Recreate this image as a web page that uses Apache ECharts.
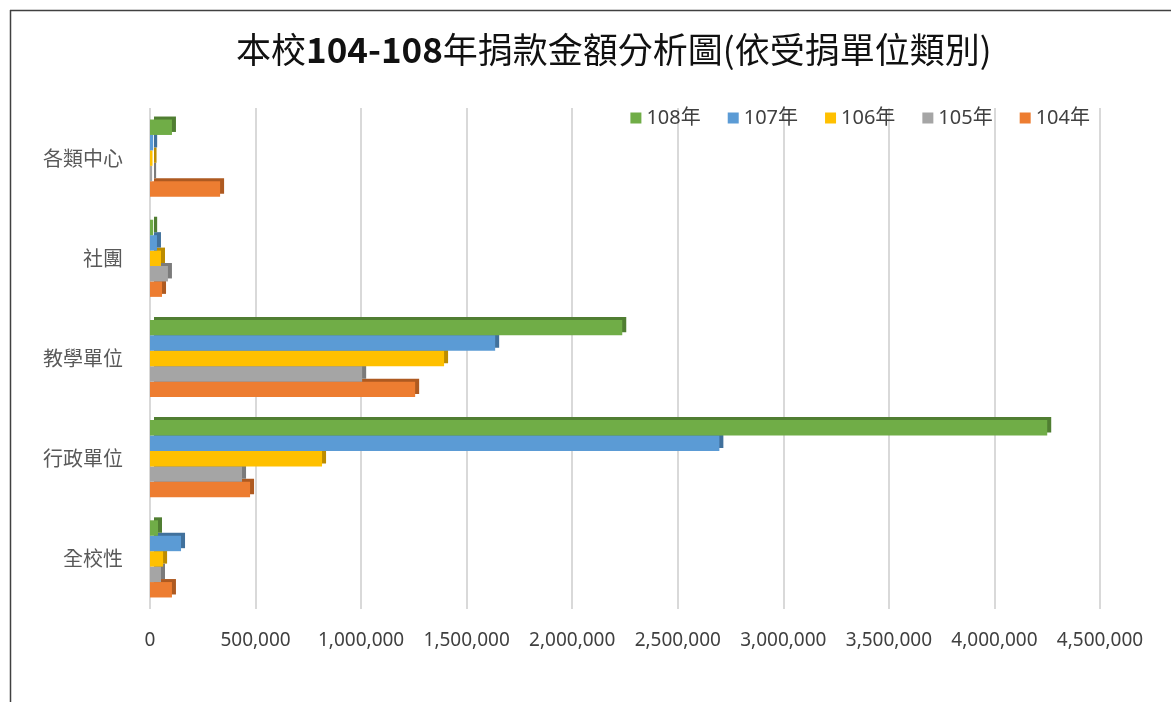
<!DOCTYPE html>
<html>
<head>
<meta charset="utf-8">
<script src="https://cdn.jsdelivr.net/npm/echarts@6/dist/echarts.min.js"></script>
<style>
  html, body { margin: 0; padding: 0; background: #fff; }
  #chart { width: 1171px; height: 702px; }
</style>
</head>
<body>
<div id="chart"></div>
<script>
// categories, bottom to top
const units = ['全校性', '行政單位', '教學單位', '社團', '各類中心'];

const y104 = [104000, 474000, 1256000, 57000, 332000];
const y105 = [52000, 436000, 1005000, 85000, 10000];
const y106 = [62000, 815000, 1393000, 52000, 12000];
const y107 = [147000, 2697000, 1635000, 33000, 15000];
const y108 = [38000, 4250000, 2237000, 15000, 104000];

const legendOrder = ['108年', '107年', '106年', '105年', '104年'];

// first series sits on top of each group; higher z so it covers the side face of the bar below
const seriesDefs = [
  { name: '108年', data: y108, color: '#70AD47', side: '#507E32', z: 7 },
  { name: '107年', data: y107, color: '#5B9BD5', side: '#41719C', z: 6 },
  { name: '106年', data: y106, color: '#FFC000', side: '#BC8C00', z: 5 },
  { name: '105年', data: y105, color: '#A5A5A5', side: '#7B7B7B', z: 4 },
  { name: '104年', data: y104, color: '#ED7D31', side: '#AE5A21', z: 3 },
];

const chart = echarts.init(document.getElementById('chart'));

const option = {
  backgroundColor: '#fff',
  animation: false,
  title: {
    text: '{a|本校}{b|104-108}{a|年捐款金額分析圖(依受捐單位類別)}',
    left: 231,
    top: 27,
    textStyle: {
      rich: {
        a: { fontSize: 35, color: '#111', fontWeight: 'normal', fontFamily: 'Noto Sans CJK TC' },
        b: { fontSize: 35, color: '#111', fontWeight: 'bold', fontFamily: 'Noto Sans CJK TC' }
      }
    }
  },
  legend: {
    data: legendOrder,
    right: 76,
    top: 103,
    icon: 'rect',
    itemWidth: 11,
    itemHeight: 11,
    itemGap: 27,
    textStyle: { fontSize: 20, color: '#404040', fontFamily: 'Noto Sans, Noto Sans CJK TC' }
  },
  grid: {
    left: 150,
    right: 71,
    top: 108,
    bottom: 93
  },
  xAxis: {
    type: 'value',
    min: 0,
    max: 4500000,
    interval: 500000,
    axisLine: { show: false },
    axisTick: { show: false },
    axisLabel: {
      margin: 22,
      fontSize: 19,
      color: '#404040',
      fontFamily: 'Noto Sans',
      formatter: v => v.toLocaleString('en-US')
    },
    splitLine: { lineStyle: { color: '#d9d9d9', width: 2 } }
  },
  yAxis: {
    type: 'category',
    data: units,
    axisLine: { show: false },
    axisTick: { show: false },
    axisLabel: {
      margin: 27,
      fontSize: 20,
      color: '#595959',
      fontFamily: 'Noto Sans CJK TC'
    }
  },
  series: seriesDefs.map(s => ({
    name: s.name,
    type: 'bar',
    data: s.data,
    z: s.z,
    barGap: '0%',
    barCategoryGap: '23%',
    itemStyle: {
      color: s.color,
      shadowColor: s.side,
      shadowBlur: 0,
      shadowOffsetX: 4,
      shadowOffsetY: -3
    }
  })),
  graphic: [
    { type: 'line', shape: { x1: 10, y1: 10.5, x2: 1171, y2: 10.5 }, style: { stroke: '#404040', lineWidth: 1.5 } },
    { type: 'line', shape: { x1: 10.5, y1: 10, x2: 10.5, y2: 702 }, style: { stroke: '#404040', lineWidth: 1.5 } }
  ]
};

chart.setOption(option);
</script>
</body>
</html>
